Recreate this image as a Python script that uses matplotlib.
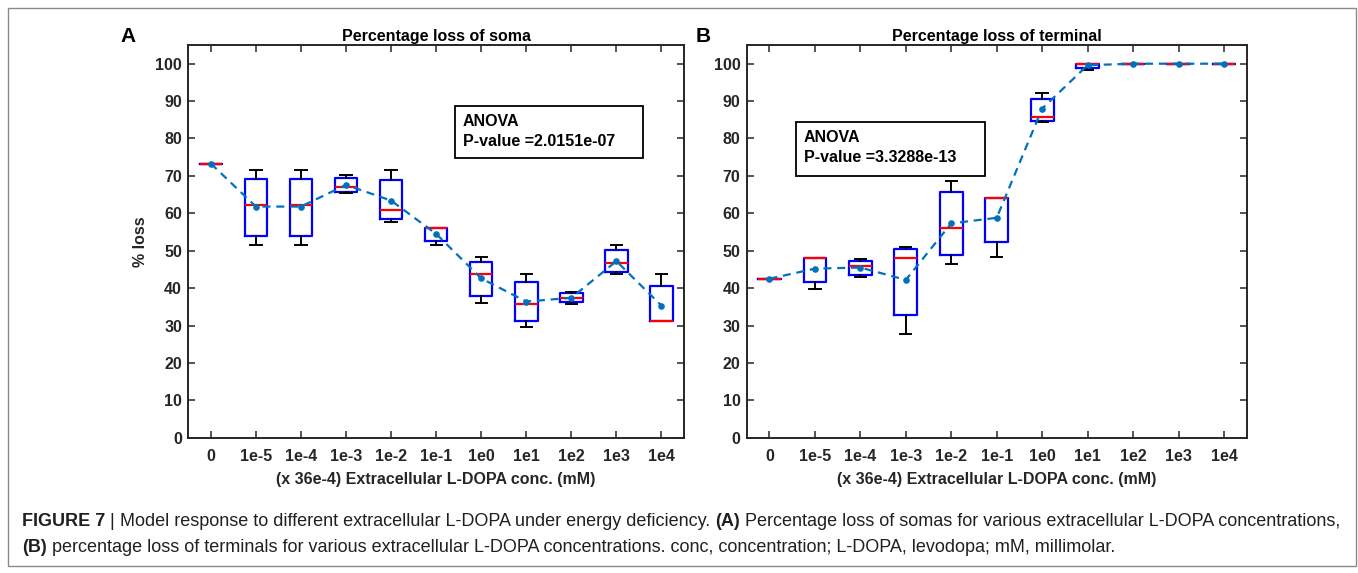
import matplotlib
matplotlib.use("Agg")
import matplotlib.pyplot as plt
from matplotlib.patches import Rectangle

# ---- data -------------------------------------------------------------
conc_labels = ["0", "1e-5", "1e-4", "1e-3", "1e-2", "1e-1",
               "1e0", "1e1", "1e2", "1e3", "1e4"]

# percentage loss of soma: box statistics for each concentration
soma_whislo = [73.3, 51.4, 51.4, 65.5, 57.7, 51.4, 35.9, 29.6, 35.8, 43.7, 31.3]
soma_q1     = [73.3, 54.0, 54.0, 65.8, 58.4, 52.6, 37.8, 31.2, 36.3, 44.3, 31.3]
soma_med    = [73.3, 62.3, 62.3, 67.0, 60.8, 56.1, 43.7, 35.8, 37.4, 46.7, 31.3]
soma_q3     = [73.3, 69.3, 69.3, 69.4, 68.9, 56.1, 47.1, 41.7, 38.6, 50.2, 40.6]
soma_whishi = [73.3, 71.6, 71.6, 70.2, 71.6, 56.1, 48.3, 43.7, 39.0, 51.4, 43.7]
soma_mean   = [73.3, 61.8, 61.8, 67.6, 63.4, 54.5, 42.6, 36.4, 37.4, 47.2, 35.3]

# percentage loss of terminal: box statistics for each concentration
term_whislo = [42.5, 39.7, 42.9, 27.7, 46.5, 48.4, 84.5, 98.4, 100.0, 100.0, 100.0]
term_q1     = [42.5, 41.6, 43.5, 32.8, 48.9, 52.3, 84.8, 98.8, 100.0, 100.0, 100.0]
term_med    = [42.5, 48.0, 45.9, 48.1, 56.2, 64.1, 85.8, 99.9, 100.0, 100.0, 100.0]
term_q3     = [42.5, 48.0, 47.3, 50.5, 65.6, 64.1, 90.6, 99.9, 100.0, 100.0, 100.0]
term_whishi = [42.5, 48.0, 47.9, 51.1, 68.7, 64.1, 92.1, 99.9, 100.0, 100.0, 100.0]
term_mean   = [42.5, 45.2, 45.5, 42.2, 57.3, 58.8, 88.0, 99.6, 100.0, 100.0, 100.0]

soma_pvalue = "2.0151e-07"
term_pvalue = "3.3288e-13"

xlabel_text = "(x 36e-4) Extracellular L-DOPA conc. (mM)"

caption_line1 = [("FIGURE 7", "bold"), (" | ", "normal"),
                 ("Model response to different extracellular L-DOPA under energy deficiency. ", "normal"),
                 ("(A)", "bold"),
                 (" Percentage loss of somas for various extracellular L-DOPA concentrations,", "normal")]
caption_line2 = [("(B)", "bold"),
                 (" percentage loss of terminals for various extracellular L-DOPA concentrations. "
                  "conc, concentration; L-DOPA, levodopa; mM, millimolar.", "normal")]

# ---- style ------------------------------------------------------------
W, H = 1358, 573
plt.rcParams["font.family"] = ["Liberation Sans", "DejaVu Sans"]
plt.rcParams["font.weight"] = "bold"
plt.rcParams["axes.titleweight"] = "bold"
plt.rcParams["axes.labelweight"] = "bold"

INK = "#262626"
MEAN_BLUE = "#0072BD"

fig = plt.figure(figsize=(W / 100, H / 100), dpi=100)


def fx(px):
    return px / W


def fy(py):
    return 1 - py / H


def box_panel(ax, wlo, q1, med, q3, whi, mean, title):
    pos = list(range(1, len(conc_labels) + 1))
    stats = [dict(whislo=a, q1=b, med=c, q3=d, whishi=e, fliers=[])
             for a, b, c, d, e in zip(wlo, q1, med, q3, whi)]
    ax.bxp(stats, positions=pos, widths=0.5, capwidths=0.25,
           showfliers=False, patch_artist=False,
           boxprops=dict(color="#0000FF", linewidth=1.6),
           medianprops=dict(color="#FF0000", linewidth=1.6),
           whiskerprops=dict(color="black", linewidth=1.4, linestyle="-"),
           capprops=dict(color="black", linewidth=1.4))
    ax.plot(pos, mean, linestyle="--", dashes=(3.6, 2.6), color=MEAN_BLUE,
            linewidth=1.6, marker=".", markersize=7.5, zorder=5)
    ax.set_xlim(0.5, len(conc_labels) + 0.5)
    ax.set_ylim(0, 105)
    ax.set_xticks(pos)
    ax.set_xticklabels(conc_labels)
    ax.set_yticks(range(0, 101, 10))
    ax.tick_params(direction="in", length=5, width=1.1, top=True, right=True,
                   labelsize=11.5, colors=INK)
    ax.tick_params(axis="x", pad=8)
    ax.tick_params(axis="y", pad=4.5)
    for s in ax.spines.values():
        s.set_linewidth(1.4)
        s.set_color(INK)
    ax.set_title(title, fontsize=11.5, color="black", pad=3)
    ax.set_xlabel(xlabel_text, fontsize=11.5, color=INK, labelpad=6)


# axes positions (figure pixels)
axA = fig.add_axes([fx(188.3), fy(437.7), (684 - 188.3) / W, (437.7 - 45) / H])
axB = fig.add_axes([fx(746.7), fy(437.7), (1246.7 - 746.7) / W, (437.7 - 45) / H])

box_panel(axA, soma_whislo, soma_q1, soma_med, soma_q3, soma_whishi, soma_mean,
          "Percentage loss of soma")
box_panel(axB, term_whislo, term_q1, term_med, term_q3, term_whishi, term_mean,
          "Percentage loss of terminal")
axA.set_ylabel("% loss", fontsize=11.5, color=INK, labelpad=5)

# panel letters
fig.text(fx(128), fy(37), "A", fontsize=15, fontweight="bold", ha="center", va="center")
fig.text(fx(703), fy(37), "B", fontsize=15, fontweight="bold", ha="center", va="center")


def anova_box(x0, y0, x1, y1, pval):
    fig.add_artist(Rectangle((fx(x0), fy(y1)), fx(x1) - fx(x0), fy(y0) - fy(y1),
                             transform=fig.transFigure, fill=True, facecolor="white",
                             edgecolor="black", linewidth=1.3, zorder=10))
    fig.text(fx(x0 + 8), fy(y0 + 16), "ANOVA", fontsize=11.5, fontweight="bold",
             ha="left", va="center", zorder=11)
    fig.text(fx(x0 + 8), fy(y0 + 36), "P-value =" + pval, fontsize=11.5,
             fontweight="bold", ha="left", va="center", zorder=11)


anova_box(455, 106, 643, 158, soma_pvalue)
anova_box(796, 122, 985, 176, term_pvalue)

# outer frame
fig.add_artist(Rectangle((fx(8), fy(566)), fx(1355.5) - fx(8), fy(8) - fy(566),
                         transform=fig.transFigure, fill=False, edgecolor="#8a8a8a",
                         linewidth=1.0))

# caption: first line spans the frame width
renderer = fig.canvas.get_renderer()
CAP_FAMILY = ["Liberation Sans"]


def run_width(runs, size):
    total = 0.0
    for text, weight in runs:
        t = fig.text(0, 0, text, fontsize=size, fontweight=weight, family=CAP_FAMILY)
        total += t.get_window_extent(renderer).width
        t.remove()
    return total


cap_size = 12 * (1345 - 22) / run_width(caption_line1, 12)


def draw_runs(x_px, base_px, runs, size):
    x = fx(x_px)
    for text, weight in runs:
        t = fig.text(x, fy(base_px), text, fontsize=size, fontweight=weight,
                     family=CAP_FAMILY, color="#231F20", ha="left", va="baseline")
        x += t.get_window_extent(renderer).width / fig.bbox.width


draw_runs(22, 526, caption_line1, cap_size)
draw_runs(22, 552, caption_line2, cap_size)

fig.savefig("out.png", dpi=100)
